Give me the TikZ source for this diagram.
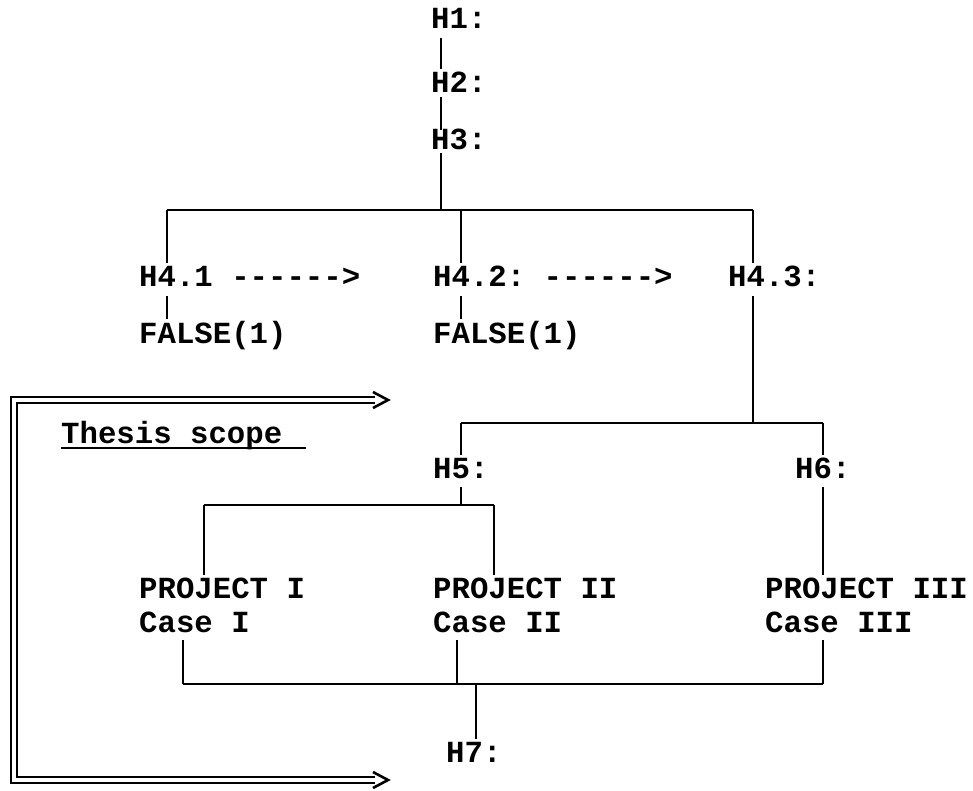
\documentclass[tikz,border=0pt]{standalone}
\usepackage{fontspec}
\setmonofont{Liberation Mono}
\begin{document}
\begin{tikzpicture}[x=1pt,y=-1pt,
  t/.style={font=\ttfamily\bfseries\fontsize{30.7}{34}\selectfont, inner sep=0pt, anchor=base west},
  ln/.style={line width=2.2pt},
  dbl/.style={line width=2.2pt, double=white, double distance=3.3pt, line join=miter},
  chev/.style={line width=2.6pt, line join=miter}]
\fill[white] (0,0) rectangle (973,791);
\useasboundingbox (0,0) rectangle (973,791);
\def\arr{-{}-{}-{}-{}-{}->}
% text nodes
\node[t] (h1) at (431,29) {H1:};
\node[t] (h2) at (431,93) {H2:};
\node[t] (h3) at (431,150) {H3:};
\node[t] (h41) at (139,287) {H4.1 \arr};
\node[t] (h42) at (433,287) {H4.2: \arr};
\node[t] (h43) at (728,287) {H4.3:};
\node[t] (f1) at (139,343) {FALSE(1)};
\node[t] (f2) at (433,343) {FALSE(1)};
\node[t] (ts) at (61,443) {Thesis scope};
\node[t] (h5) at (433,478) {H5:};
\node[t] (h6) at (795,478) {H6:};
\node[t] (p1) at (139,598) {PROJECT I};
\node[t] (c1) at (139,632) {Case I};
\node[t] (p2) at (433,598) {PROJECT II};
\node[t] (c2) at (433,632) {Case II};
\node[t] (p3) at (765,598) {PROJECT III};
\node[t] (c3) at (765,632) {Case III};
\node[t] (h7) at (446,762) {H7:};
% junctions
\coordinate (j0) at (441,210);
\coordinate (j1) at (167,210);
\coordinate (j2) at (461,210);
\coordinate (j3) at (753,210);
\coordinate (k1) at (461,423);
\coordinate (k0) at (753,423);
\coordinate (k2) at (823,423);
\coordinate (m0) at (461,505);
\coordinate (m1) at (204,505);
\coordinate (m2) at (494,505);
\coordinate (n0) at (476,684);
\coordinate (n1) at (183,684);
\coordinate (n2) at (457,684);
\coordinate (n3) at (823,684);
% connectors
\draw[ln] ([yshift=-9pt]h1.base -| j0) -- ([yshift=23.5pt]h2.base -| j0);
\draw[ln] ([yshift=-4pt]h2.base -| j0) -- ([yshift=20pt]h3.base -| j0);
\draw[ln] ([yshift=-3pt]h3.base -| j0) -- (j0);
\draw[ln] (j1) -- (j3);
\draw[ln] (j1) -- ([yshift=23.5pt]h41.base -| j1);
\draw[ln] (j2) -- ([yshift=23.5pt]h42.base -| j2);
\draw[ln] (j3) -- ([yshift=23.5pt]h43.base -| j3);
\draw[ln] ([yshift=-9pt]h41.base -| j1) -- ([yshift=24pt]f1.base -| j1);
\draw[ln] ([yshift=-9pt]h42.base -| j2) -- ([yshift=24pt]f2.base -| j2);
\draw[ln] ([yshift=-9pt]h43.base -| k0) -- (k0);
\draw[ln] (k1) -- (k2);
\draw[ln] (k1) -- ([yshift=23.5pt]h5.base -| k1);
\draw[ln] (k2) -- ([yshift=23.5pt]h6.base -| k2);
\draw[ln] ([yshift=-9pt]h5.base -| m0) -- (m0);
\draw[ln] (m1) -- (m2);
\draw[ln] (m1) -- ([yshift=23.5pt]p1.base -| m1);
\draw[ln] (m2) -- ([yshift=23.5pt]p2.base -| m2);
\draw[ln] ([yshift=-9pt]h6.base -| k2) -- ([yshift=23.5pt]p3.base -| k2);
\draw[ln] ([yshift=-8pt]c1.base -| n1) -- (n1);
\draw[ln] ([yshift=-8pt]c2.base -| n2) -- (n2);
\draw[ln] ([yshift=-8pt]c3.base -| n3) -- (n3);
\draw[ln] (n1) -- (n3);
\draw[ln] (n0) -- ([yshift=23.5pt]h7.base -| n0);
% underline of Thesis scope
\draw[line width=2.4pt] ([yshift=-5pt]ts.base west) -- ([yshift=-5pt,xshift=24pt]ts.base east);
% double bracket
\coordinate (bt) at (375,400);
\coordinate (bb) at (375,780);
\draw[dbl] (bt) -- (14,400) -- (14,780) -- (bb);
\draw[chev] ([xshift=-2pt,yshift=8pt]bt) -- ([xshift=13pt]bt) -- ([xshift=-2pt,yshift=-8pt]bt);
\draw[chev] ([xshift=-2pt,yshift=8pt]bb) -- ([xshift=13pt]bb) -- ([xshift=-2pt,yshift=-8pt]bb);
\end{tikzpicture}
\end{document}
